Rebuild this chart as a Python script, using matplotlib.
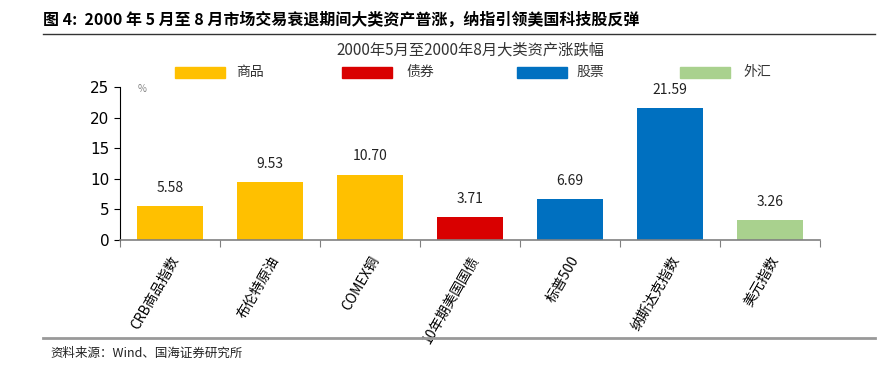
import matplotlib
matplotlib.use("Agg")
import matplotlib.pyplot as plt
from matplotlib.patches import Rectangle
from matplotlib.lines import Line2D

plt.rcParams['font.family'] = ['Noto Sans CJK SC', 'DejaVu Sans']

categories = ["CRB商品指数", "布伦特原油", "COMEX铜", "10年期美国国债", "标普500", "纳斯达克指数", "美元指数"]
values = [5.58, 9.53, 10.70, 3.71, 6.69, 21.59, 3.26]
groups = ["商品", "商品", "商品", "债券", "股票", "股票", "外汇"]
legend_labels = ["商品", "债券", "股票", "外汇"]
colors = {"商品": "#FFC000", "债券": "#D90000", "股票": "#0070C0", "外汇": "#A9D18E"}
y_ticks = [0, 5, 10, 15, 20, 25]

W, H = 879, 372
fig = plt.figure(figsize=(W/100, H/100), dpi=100)

ax = fig.add_axes([120/W, 1-240/H, 700/W, 153/H])
x = range(len(categories))
ax.bar(x, values, width=0.66, color=[colors[g] for g in groups], zorder=2)
for xi, v in zip(x, values):
    ax.annotate(f"{v:.2f}", (xi, v), xytext=(0, 8), textcoords="offset points",
                ha="center", va="bottom", fontsize=10, color="#222222")
ax.set_xlim(-0.5, len(categories) - 0.5)
ax.set_ylim(0, 25)
ax.set_yticks(y_ticks)
ax.set_yticklabels([str(t) for t in y_ticks], fontsize=11, family=['DejaVu Sans'])
ax.set_xticks([i - 0.5 for i in range(len(categories) + 1)])
ax.set_xticklabels([])
ax.set_xticks(list(x), minor=True)
ax.set_xticklabels(categories, minor=True, rotation=60, ha="right", rotation_mode="anchor",
                   fontsize=10, style="italic")
ax.tick_params(axis="x", which="minor", length=0, pad=10)
ax.tick_params(axis="x", which="major", length=5, color="#808080", direction="out")
ax.tick_params(axis="y", length=4, color="black", direction="out")
for s in ["top", "right"]:
    ax.spines[s].set_visible(False)
ax.spines["left"].set_color("black")
ax.spines["bottom"].set_color("#808080")
ax.spines["bottom"].set_linewidth(1.2)
ax.text(0.025, 0.985, "%", transform=ax.transAxes, fontsize=7, color="#808080", va="center")

# Header
fig.text(43/W, 1-20/H, "图 4:  2000 年 5 月至 8 月市场交易衰退期间大类资产普涨，纳指引领美国科技股反弹",
         fontsize=11.5, fontweight="bold", va="center", ha="left")
fig.add_artist(Line2D([43/W, 875/W], [1-34/H, 1-34/H], color="#333333", lw=1.0))
fig.text(0.5*(120+820)/W, 1-50/H, "2000年5月至2000年8月大类资产涨跌幅", fontsize=11,
         ha="center", va="center", color="#333333")

# Legend
leg_patch_x = [175, 342, 517, 680]
leg_text_x = [250, 420, 590, 757]
for lab, px, tx in zip(legend_labels, leg_patch_x, leg_text_x):
    fig.add_artist(Rectangle((px/W, 1-78/H), 50/W, 11/H, color=colors[lab], transform=fig.transFigure))
    fig.text(tx/W, 1-72/H, lab, fontsize=10, va="center", ha="center", color="#333333")

# Footer
fig.add_artist(Line2D([43/W, 875/W], [1-338/H, 1-338/H], color="#999999", lw=2.0))
fig.text(50/W, 1-353/H, "资料来源：Wind、国海证券研究所", fontsize=9, va="center", ha="left", color="#222222")

fig.savefig("out.png", dpi=100)
